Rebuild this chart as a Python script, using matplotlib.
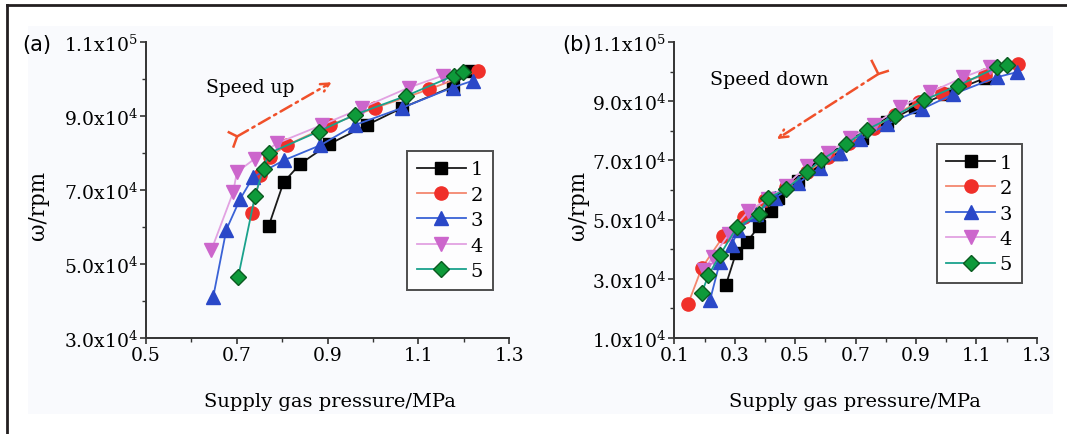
import numpy as np
import matplotlib
matplotlib.use("Agg")
import matplotlib.pyplot as plt
from matplotlib.ticker import FuncFormatter, MultipleLocator, AutoMinorLocator
from matplotlib.patches import Rectangle
from matplotlib.lines import Line2D

plt.rcParams['font.family'] = ['DejaVu Serif']
plt.rcParams['mathtext.fontset'] = 'dejavuserif'

# ---------------- data: (a) speed up ----------------
up_x1 = [0.770, 0.803, 0.840, 0.902, 0.987, 1.064, 1.175, 1.212]
up_y1 = [60.2e3, 72.1e3, 77.1e3, 82.3e3, 87.6e3, 92.2e3, 97.9e3, 102.2e3]
up_x2 = [0.733, 0.752, 0.772, 0.810, 0.906, 1.005, 1.123, 1.230]
up_y2 = [63.9e3, 74.0e3, 79.0e3, 82.1e3, 87.6e3, 92.2e3, 97.2e3, 102.2e3]
up_x3 = [0.648, 0.677, 0.707, 0.736, 0.803, 0.884, 0.961, 1.064, 1.175, 1.219]
up_y3 = [41.1e3, 59.3e3, 67.5e3, 73.5e3, 78.0e3, 82.1e3, 87.6e3, 92.2e3, 97.7e3, 99.5e3]
up_x4 = [0.644, 0.692, 0.700, 0.740, 0.788, 0.888, 0.976, 1.079, 1.153]
up_y4 = [53.8e3, 69.4e3, 74.8e3, 78.5e3, 82.6e3, 87.6e3, 92.2e3, 97.7e3, 100.9e3]
up_x5 = [0.703, 0.740, 0.759, 0.770, 0.880, 0.961, 1.072, 1.178, 1.197]
up_y5 = [46.5e3, 68.4e3, 75.8e3, 79.9e3, 85.8e3, 90.4e3, 95.4e3, 100.9e3, 101.8e3]

# ---------------- data: (b) speed down ----------------
dn_x1 = [0.271, 0.304, 0.342, 0.381, 0.420, 0.444, 0.511, 0.575, 0.638, 0.720, 0.803, 0.897, 0.996, 1.129]
dn_y1 = [28.0e3, 38.6e3, 42.6e3, 47.9e3, 52.8e3, 57.3e3, 63.0e3, 67.5e3, 72.0e3, 77.5e3, 83.0e3, 87.9e3, 92.4e3, 97.8e3]
dn_x2 = [0.146, 0.191, 0.262, 0.330, 0.400, 0.470, 0.540, 0.610, 0.680, 0.760, 0.830, 0.910, 0.985, 1.060, 1.130, 1.239]
dn_y2 = [21.6e3, 33.7e3, 44.3e3, 51.0e3, 56.5e3, 61.0e3, 66.0e3, 71.0e3, 76.0e3, 81.0e3, 85.5e3, 89.8e3, 92.8e3, 96.5e3, 99.0e3, 102.4e3]
dn_x3 = [0.218, 0.251, 0.290, 0.312, 0.370, 0.433, 0.511, 0.582, 0.650, 0.715, 0.803, 0.919, 1.024, 1.168, 1.234]
dn_y3 = [22.7e3, 35.7e3, 41.4e3, 46.5e3, 52.0e3, 57.3e3, 62.4e3, 67.5e3, 72.5e3, 77.1e3, 82.2e3, 87.3e3, 92.4e3, 98.1e3, 99.8e3]
dn_x4 = [0.200, 0.227, 0.280, 0.345, 0.410, 0.470, 0.538, 0.610, 0.682, 0.760, 0.847, 0.947, 1.057, 1.145]
dn_y4 = [33.0e3, 37.4e3, 45.0e3, 52.8e3, 57.0e3, 61.5e3, 68.0e3, 72.5e3, 77.7e3, 82.0e3, 87.9e3, 93.0e3, 98.1e3, 101.5e3]
dn_x5 = [0.191, 0.213, 0.251, 0.307, 0.380, 0.411, 0.470, 0.538, 0.586, 0.668, 0.737, 0.831, 0.927, 1.040, 1.170, 1.201]
dn_y5 = [25.3e3, 31.2e3, 38.0e3, 47.4e3, 51.9e3, 57.3e3, 60.3e3, 66.1e3, 70.1e3, 75.4e3, 80.4e3, 85.1e3, 90.4e3, 95.3e3, 101.5e3, 102.3e3]

labels = ['1', '2', '3', '4', '5']

styles = [
    dict(marker='s', color='#1a1a1a', mfc='#000000', mec='#000000'),
    dict(marker='o', color='#f4876e', mfc='#f0302a', mec='#f0302a'),
    dict(marker='^', color='#3a62d6', mfc='#2a48c8', mec='#2a48c8'),
    dict(marker='v', color='#e2a2e2', mfc='#cc66cc', mec='#cc66cc'),
    dict(marker='D', color='#1aa28c', mfc='#0e9a3a', mec='#0a5a20'),
]
msizes = [8.5, 9.5, 9.5, 9.5, 8.0]

W, H = 1067, 435
fig = plt.figure(figsize=(W / 100, H / 100), dpi=100)

# light panel background and frame
fig.patches.append(Rectangle((28 / W, 1 - 415 / H), (1053 - 28) / W, (415 - 27) / H,
                             transform=fig.transFigure, facecolor='#f9fafd', edgecolor='none', zorder=-10))
fig.add_artist(Line2D([7.3 / W, 7.3 / W], [0, 1 - 5.7 / H], transform=fig.transFigure, color='#231f20', lw=2.0))
fig.add_artist(Line2D([7.3 / W, 1.0], [1 - 5.7 / H, 1 - 5.7 / H], transform=fig.transFigure, color='#231f20', lw=2.0))

bottom = 1 - 339 / H
height = (339 - 43) / H
axA = fig.add_axes([146 / W, bottom, (509.3 - 146) / W, height])
axB = fig.add_axes([674.3 / W, bottom, (1036.7 - 674.3) / W, height])


def sci_fmt(v, pos):
    if v <= 0:
        return ''
    e = int(np.floor(np.log10(v) + 1e-9))
    m = v / 10 ** e
    return f"{m:.1f}x10$^{{{e}}}$"


def style_axes(ax, xlim, ylim):
    ax.set_facecolor('none')
    ax.set_xlim(*xlim)
    ax.set_ylim(*ylim)
    ax.xaxis.set_major_locator(MultipleLocator(0.2, offset=0.1))
    ax.xaxis.set_minor_locator(AutoMinorLocator(2))
    ax.yaxis.set_major_locator(MultipleLocator(2.0e4, offset=1.0e4))
    ax.yaxis.set_minor_locator(AutoMinorLocator(2))
    ax.xaxis.set_major_formatter(FuncFormatter(lambda v, p: f"{v:.1f}"))
    ax.yaxis.set_major_formatter(FuncFormatter(sci_fmt))
    for s in ['top', 'right']:
        ax.spines[s].set_visible(False)
    for s in ['left', 'bottom']:
        ax.spines[s].set_color('#333333')
        ax.spines[s].set_linewidth(1.4)
    ax.tick_params(which='major', direction='out', length=4, width=1.2, color='#333333',
                   labelsize=13.5, pad=2)
    ax.tick_params(which='minor', direction='out', length=3, width=1.0, color='#333333')


def plot_series(ax, xs, ys):
    for x, y, st, ms, lab in zip(xs, ys, styles, msizes, labels):
        ax.plot(x, y, marker=st['marker'], color=st['color'], mfc=st['mfc'], mec=st['mec'],
                ms=ms, lw=1.3, label=lab, clip_on=False)


style_axes(axA, (0.5, 1.3), (3.0e4, 1.1e5))
style_axes(axB, (0.1, 1.3), (1.0e4, 1.1e5))

plot_series(axA, [up_x1, up_x2, up_x3, up_x4, up_x5], [up_y1, up_y2, up_y3, up_y4, up_y5])
plot_series(axB, [dn_x1, dn_x2, dn_x3, dn_x4, dn_x5], [dn_y1, dn_y2, dn_y3, dn_y4, dn_y5])

for ax, anchor in [(axA, (0.719, 0.633)), (axB, (0.724, 0.655))]:
    leg = ax.legend(loc='upper left', bbox_to_anchor=anchor, fontsize=14, frameon=True,
                    fancybox=False, edgecolor='#222222', handlelength=2.5, handletextpad=0.25,
                    labelspacing=0.38, borderpad=0.5, borderaxespad=0)
    leg.get_frame().set_linewidth(1.4)
    leg.get_frame().set_facecolor('white')

# annotations
arrow_col = '#f0502a'
axA.text(0.165, 0.848, 'Speed up', transform=axA.transAxes, fontsize=13.4, va='center', ha='left')
axA.annotate('', xy=(0.511, 0.864), xytext=(0.251, 0.681), xycoords='axes fraction',
             textcoords='axes fraction',
             arrowprops=dict(arrowstyle='->,head_length=0.6,head_width=0.3', linestyle=(0, (5, 2, 1, 2)),
                             color=arrow_col, lw=1.8, shrinkA=0, shrinkB=0))
axA.plot([0.228, 0.251, 0.241], [0.695, 0.681, 0.647], transform=axA.transAxes, color=arrow_col, lw=1.8)

axB.text(0.0985, 0.875, 'Speed down', transform=axB.transAxes, fontsize=13.7, va='center', ha='left')
axB.annotate('', xy=(0.283, 0.672), xytext=(0.563, 0.892), xycoords='axes fraction',
             textcoords='axes fraction',
             arrowprops=dict(arrowstyle='->,head_length=0.6,head_width=0.3', linestyle=(0, (5, 2, 1, 2)),
                             color=arrow_col, lw=1.8, shrinkA=0, shrinkB=0))
axB.plot([0.545, 0.563, 0.589], [0.936, 0.892, 0.902], transform=axB.transAxes, color=arrow_col, lw=1.8)

# panel labels and axis titles
fig.text(22 / W, 1 - 45 / H, '(a)', family='DejaVu Sans', fontsize=15, va='center', ha='left')
fig.text(562 / W, 1 - 45 / H, '(b)', family='DejaVu Sans', fontsize=15, va='center', ha='left')
fig.text(38 / W, 1 - 205 / H, 'ω/rpm', rotation=90, fontsize=15.5, va='center', ha='center')
fig.text(578 / W, 1 - 205 / H, 'ω/rpm', rotation=90, fontsize=15.5, va='center', ha='center')
fig.text(330 / W, 1 - 402 / H, 'Supply gas pressure/MPa', fontsize=14, va='center', ha='center')
fig.text(855 / W, 1 - 402 / H, 'Supply gas pressure/MPa', fontsize=14, va='center', ha='center')

fig.savefig('out.png', dpi=100)
